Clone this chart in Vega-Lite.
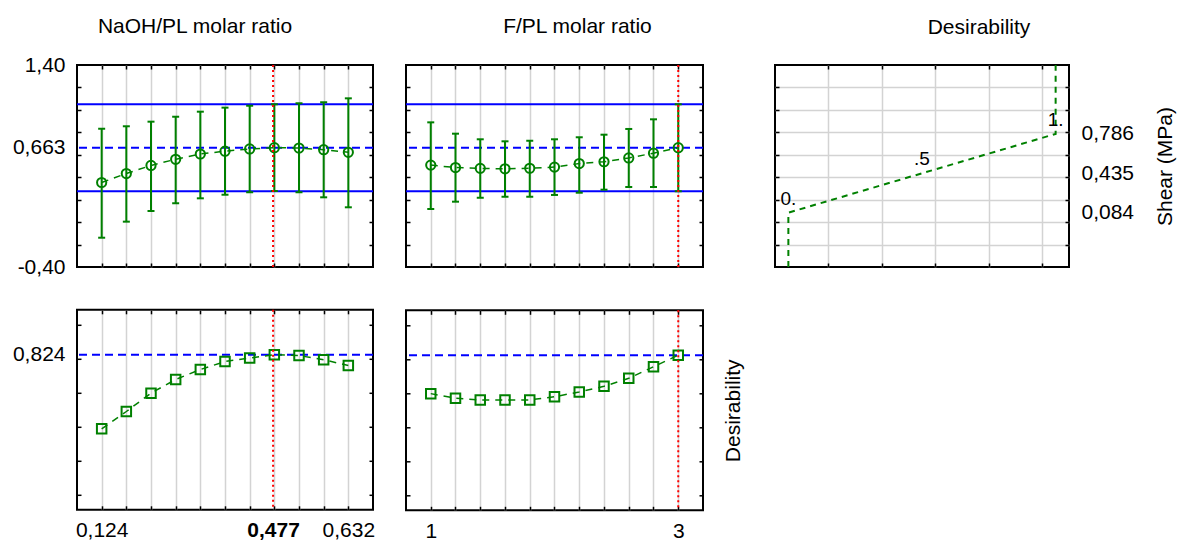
{
  "$schema": "https://vega.github.io/schema/vega-lite/v6.json",
  "background": "white",
  "padding": {"left": 11, "top": 14, "right": 0, "bottom": 0},
  "spacing": 28,
  "datasets": {
    "naoh": [
      {"x": 0.124, "shear": 0.353, "lo": -0.139, "hi": 0.832, "des": 0.388},
      {"x": 0.1748, "shear": 0.433, "lo": 0.004, "hi": 0.854, "des": 0.490},
      {"x": 0.2256, "shear": 0.505, "lo": 0.099, "hi": 0.895, "des": 0.598},
      {"x": 0.2764, "shear": 0.560, "lo": 0.168, "hi": 0.939, "des": 0.678},
      {"x": 0.3272, "shear": 0.607, "lo": 0.212, "hi": 0.984, "des": 0.737},
      {"x": 0.378, "shear": 0.632, "lo": 0.244, "hi": 1.020, "des": 0.784},
      {"x": 0.4288, "shear": 0.652, "lo": 0.266, "hi": 1.037, "des": 0.804},
      {"x": 0.4796, "shear": 0.663, "lo": 0.277, "hi": 1.050, "des": 0.824},
      {"x": 0.5304, "shear": 0.660, "lo": 0.266, "hi": 1.059, "des": 0.819},
      {"x": 0.5812, "shear": 0.645, "lo": 0.221, "hi": 1.068, "des": 0.794},
      {"x": 0.632, "shear": 0.622, "lo": 0.132, "hi": 1.103, "des": 0.761}
    ],
    "fpl": [
      {"x": 1, "shear": 0.508, "lo": 0.117, "hi": 0.889, "des": 0.598},
      {"x": 1.2, "shear": 0.486, "lo": 0.182, "hi": 0.788, "des": 0.571},
      {"x": 1.4, "shear": 0.479, "lo": 0.217, "hi": 0.738, "des": 0.561},
      {"x": 1.6, "shear": 0.475, "lo": 0.226, "hi": 0.720, "des": 0.561},
      {"x": 1.8, "shear": 0.480, "lo": 0.226, "hi": 0.725, "des": 0.561},
      {"x": 2, "shear": 0.490, "lo": 0.242, "hi": 0.738, "des": 0.580},
      {"x": 2.2, "shear": 0.522, "lo": 0.262, "hi": 0.756, "des": 0.608},
      {"x": 2.4, "shear": 0.538, "lo": 0.289, "hi": 0.779, "des": 0.641},
      {"x": 2.6, "shear": 0.572, "lo": 0.313, "hi": 0.830, "des": 0.688},
      {"x": 2.8, "shear": 0.614, "lo": 0.313, "hi": 0.916, "des": 0.756},
      {"x": 3, "shear": 0.663, "lo": 0.275, "hi": 1.050, "des": 0.824}
    ],
    "dfun": [
      {"i": 0, "d": 0, "s": -0.4},
      {"i": 1, "d": 0, "s": 0.084},
      {"i": 2, "d": 1, "s": 0.786},
      {"i": 3, "d": 1, "s": 1.4}
    ],
    "dlab": [
      {"d": 0, "s": 0.084, "t": "0."},
      {"d": 0.5, "s": 0.435, "t": ".5"},
      {"d": 1, "s": 0.786, "t": "1."}
    ]
  },
  "hconcat": [
    {
      "spacing": 29.8,
      "vconcat": [
        {
          "width": 296, "height": 202,
          "title": {"text": "NaOH/PL molar ratio", "frame": "group", "baseline": "alphabetic", "offset": 0.5, "dx": -30},
          "layer": [
            {"data": {"values": [{"v": 1.05}, {"v": 0.275}]}, "mark": {"type": "rule", "color": "#0000ff", "strokeWidth": 2},
             "encoding": {"y": {"field": "v", "type": "quantitative", "scale": {"domain": [-0.4, 1.4], "nice": false, "zero": false}, "axis": null}}},
            {"data": {"values": [{"v": 0.663}]}, "mark": {"type": "rule", "color": "#0000ff", "strokeWidth": 2, "strokeDash": [8, 5]},
             "encoding": {"y": {"field": "v", "type": "quantitative", "scale": {"domain": [-0.4, 1.4], "nice": false, "zero": false}, "axis": null}}},
            {"data": {"name": "naoh"}, "mark": {"type": "rule", "color": "#008000", "strokeWidth": 2},
             "encoding": {
               "x": {"field": "x", "type": "quantitative", "scale": {"domain": [0.0732, 0.6828], "nice": false, "zero": false},
                     "axis": {"orient": "bottom", "title": null, "labels": false, "values": [0.124, 0.1748, 0.2256, 0.2764, 0.3272, 0.378, 0.4288, 0.4796, 0.5304, 0.5812, 0.632]}},
               "y": {"field": "lo", "type": "quantitative", "scale": {"domain": [-0.4, 1.4], "nice": false, "zero": false},
                     "axis": {"orient": "left", "title": null, "values": [-0.4, -0.2, 0, 0.2, 0.4, 0.6, 0.8, 1, 1.2, 1.4, 0.663],
                              "labelExpr": "datum.value == 1.4 ? '1,40' : datum.value == 0.663 ? '0,663' : datum.value == -0.4 ? '-0,40' : ''",
                              "gridOpacity": {"condition": {"test": "datum.value == 0.663 || datum.value == 1.4 || datum.value == -0.4", "value": 0}, "value": 1},
                              "tickOpacity": {"condition": {"test": "datum.value == 0.663 || datum.value == 1.4 || datum.value == -0.4", "value": 0}, "value": 1}}},
               "y2": {"field": "hi"}}},
            {"data": {"name": "naoh"}, "mark": {"type": "tick", "orient": "horizontal", "color": "#008000", "size": 7, "thickness": 2, "opacity": 1},
             "encoding": {"x": {"field": "x", "type": "quantitative", "axis": null}, "y": {"field": "hi", "type": "quantitative", "axis": null}}},
            {"data": {"name": "naoh"}, "mark": {"type": "tick", "orient": "horizontal", "color": "#008000", "size": 7, "thickness": 2, "opacity": 1},
             "encoding": {"x": {"field": "x", "type": "quantitative", "axis": null}, "y": {"field": "lo", "type": "quantitative", "axis": null}}},
            {"data": {"name": "naoh"}, "mark": {"type": "line", "color": "#008000", "strokeWidth": 1.5, "strokeDash": [7, 6]},
             "encoding": {"x": {"field": "x", "type": "quantitative", "axis": null}, "y": {"field": "shear", "type": "quantitative", "axis": null}}},
            {"data": {"name": "naoh"}, "mark": {"type": "point", "shape": "circle", "filled": false, "color": "#008000", "strokeWidth": 2, "size": 85, "opacity": 1},
             "encoding": {
               "x": {"field": "x", "type": "quantitative", "axis": {"orient": "top", "title": null, "labels": false, "grid": false, "values": [0.124, 0.1748, 0.2256, 0.2764, 0.3272, 0.378, 0.4288, 0.4796, 0.5304, 0.5812, 0.632]}},
               "y": {"field": "shear", "type": "quantitative", "axis": {"orient": "right", "title": null, "labels": false, "grid": false, "values": [-0.2, 0, 0.2, 0.4, 0.6, 0.8, 1, 1.2]}}}},
            {"data": {"values": [{"x": 0.477}]}, "mark": {"type": "rule", "color": "#ff0000", "strokeWidth": 2, "strokeDash": [2, 3]},
             "encoding": {"x": {"field": "x", "type": "quantitative", "axis": null}}}
          ],
          "resolve": {"axis": {"x": "independent", "y": "independent"}}
        },
        {
          "width": 296, "height": 200,
          "layer": [
            {"data": {"values": [{"v": 0.824}]}, "mark": {"type": "rule", "color": "#0000ff", "strokeWidth": 2, "strokeDash": [8, 5]},
             "encoding": {"y": {"field": "v", "type": "quantitative", "scale": {"domain": [-0.088, 1.088], "nice": false, "zero": false}, "axis": null}}},
            {"data": {"name": "naoh"}, "mark": {"type": "line", "color": "#008000", "strokeWidth": 1.5, "strokeDash": [7, 6]},
             "encoding": {
               "x": {"field": "x", "type": "quantitative", "scale": {"domain": [0.0732, 0.6828], "nice": false, "zero": false},
                     "axis": {"orient": "bottom", "title": null, "values": [0.124, 0.1748, 0.2256, 0.2764, 0.3272, 0.378, 0.4288, 0.4796, 0.5304, 0.5812, 0.632, 0.477],
                              "labelExpr": "datum.value == 0.124 ? '0,124' : datum.value == 0.477 ? '0,477' : datum.value == 0.632 ? '0,632' : ''",
                              "labelFontWeight": {"condition": {"test": "datum.value == 0.477", "value": "bold"}, "value": "normal"},
                              "gridOpacity": {"condition": {"test": "datum.value == 0.477", "value": 0}, "value": 1},
                              "tickOpacity": {"condition": {"test": "datum.value == 0.477", "value": 0}, "value": 1}}},
               "y": {"field": "des", "type": "quantitative", "scale": {"domain": [-0.088, 1.088], "nice": false, "zero": false},
                     "axis": {"orient": "left", "title": null, "values": [0, 0.2, 0.4, 0.6, 0.8, 1, 0.824],
                              "labelExpr": "datum.value == 0.824 ? '0,824' : ''",
                              "gridOpacity": {"condition": {"test": "datum.value == 0.824", "value": 0}, "value": 1},
                              "tickOpacity": {"condition": {"test": "datum.value == 0.824", "value": 0}, "value": 1}}}}},
            {"data": {"name": "naoh"}, "mark": {"type": "point", "shape": "square", "filled": false, "color": "#008000", "strokeWidth": 2, "size": 90, "opacity": 1},
             "encoding": {
               "x": {"field": "x", "type": "quantitative", "axis": {"orient": "top", "title": null, "labels": false, "grid": false, "values": [0.124, 0.1748, 0.2256, 0.2764, 0.3272, 0.378, 0.4288, 0.4796, 0.5304, 0.5812, 0.632]}},
               "y": {"field": "des", "type": "quantitative", "axis": {"orient": "right", "title": null, "labels": false, "grid": false, "values": [0, 0.2, 0.4, 0.6, 0.8, 1]}}}},
            {"data": {"values": [{"x": 0.477}]}, "mark": {"type": "rule", "color": "#ff0000", "strokeWidth": 2, "strokeDash": [2, 3]},
             "encoding": {"x": {"field": "x", "type": "quantitative", "axis": null}}}
          ],
          "resolve": {"axis": {"x": "independent", "y": "independent"}}
        }
      ]
    },
    {
      "spacing": 39.3,
      "vconcat": [
        {
          "width": 297, "height": 202,
          "title": {"text": "F/PL molar ratio", "frame": "group", "baseline": "alphabetic", "offset": 10, "dx": 23},
          "layer": [
            {"data": {"values": [{"v": 1.05}, {"v": 0.275}]}, "mark": {"type": "rule", "color": "#0000ff", "strokeWidth": 2},
             "encoding": {"y": {"field": "v", "type": "quantitative", "scale": {"domain": [-0.4, 1.4], "nice": false, "zero": false}, "axis": null}}},
            {"data": {"values": [{"v": 0.663}]}, "mark": {"type": "rule", "color": "#0000ff", "strokeWidth": 2, "strokeDash": [8, 5]},
             "encoding": {"y": {"field": "v", "type": "quantitative", "scale": {"domain": [-0.4, 1.4], "nice": false, "zero": false}, "axis": null}}},
            {"data": {"name": "fpl"}, "mark": {"type": "rule", "color": "#008000", "strokeWidth": 2},
             "encoding": {
               "x": {"field": "x", "type": "quantitative", "scale": {"domain": [0.8, 3.2], "nice": false, "zero": false},
                     "axis": {"orient": "bottom", "title": null, "labels": false, "values": [1, 1.2, 1.4, 1.6, 1.8, 2, 2.2, 2.4, 2.6, 2.8, 3]}},
               "y": {"field": "lo", "type": "quantitative", "scale": {"domain": [-0.4, 1.4], "nice": false, "zero": false},
                     "axis": {"orient": "left", "title": null, "labels": false, "values": [-0.2, 0, 0.2, 0.4, 0.6, 0.8, 1, 1.2]}},
               "y2": {"field": "hi"}}},
            {"data": {"name": "fpl"}, "mark": {"type": "tick", "orient": "horizontal", "color": "#008000", "size": 7, "thickness": 2, "opacity": 1},
             "encoding": {"x": {"field": "x", "type": "quantitative", "axis": null}, "y": {"field": "hi", "type": "quantitative", "axis": null}}},
            {"data": {"name": "fpl"}, "mark": {"type": "tick", "orient": "horizontal", "color": "#008000", "size": 7, "thickness": 2, "opacity": 1},
             "encoding": {"x": {"field": "x", "type": "quantitative", "axis": null}, "y": {"field": "lo", "type": "quantitative", "axis": null}}},
            {"data": {"name": "fpl"}, "mark": {"type": "line", "color": "#008000", "strokeWidth": 1.5, "strokeDash": [7, 6]},
             "encoding": {"x": {"field": "x", "type": "quantitative", "axis": null}, "y": {"field": "shear", "type": "quantitative", "axis": null}}},
            {"data": {"name": "fpl"}, "mark": {"type": "point", "shape": "circle", "filled": false, "color": "#008000", "strokeWidth": 2, "size": 85, "opacity": 1},
             "encoding": {
               "x": {"field": "x", "type": "quantitative", "axis": {"orient": "top", "title": null, "labels": false, "grid": false, "values": [1, 1.2, 1.4, 1.6, 1.8, 2, 2.2, 2.4, 2.6, 2.8, 3]}},
               "y": {"field": "shear", "type": "quantitative", "axis": {"orient": "right", "title": null, "labels": false, "grid": false, "values": [-0.2, 0, 0.2, 0.4, 0.6, 0.8, 1, 1.2]}}}},
            {"data": {"values": [{"x": 3}]}, "mark": {"type": "rule", "color": "#ff0000", "strokeWidth": 2, "strokeDash": [2, 3]},
             "encoding": {"x": {"field": "x", "type": "quantitative", "axis": null}}}
          ],
          "resolve": {"axis": {"x": "independent", "y": "independent"}}
        },
        {
          "width": 297, "height": 200,
          "layer": [
            {"data": {"values": [{"v": 0.824}]}, "mark": {"type": "rule", "color": "#0000ff", "strokeWidth": 2, "strokeDash": [8, 5]},
             "encoding": {"y": {"field": "v", "type": "quantitative", "scale": {"domain": [-0.088, 1.088], "nice": false, "zero": false}, "axis": null}}},
            {"data": {"name": "fpl"}, "mark": {"type": "line", "color": "#008000", "strokeWidth": 1.5, "strokeDash": [7, 6]},
             "encoding": {
               "x": {"field": "x", "type": "quantitative", "scale": {"domain": [0.8, 3.2], "nice": false, "zero": false},
                     "axis": {"orient": "bottom", "title": null, "values": [1, 1.2, 1.4, 1.6, 1.8, 2, 2.2, 2.4, 2.6, 2.8, 3],
                              "labelExpr": "datum.value == 1 ? '1' : datum.value == 3 ? '3' : ''"}},
               "y": {"field": "des", "type": "quantitative", "scale": {"domain": [-0.088, 1.088], "nice": false, "zero": false},
                     "axis": {"orient": "left", "title": null, "labels": false, "values": [0, 0.2, 0.4, 0.6, 0.8, 1]}}}},
            {"data": {"name": "fpl"}, "mark": {"type": "point", "shape": "square", "filled": false, "color": "#008000", "strokeWidth": 2, "size": 90, "opacity": 1},
             "encoding": {
               "x": {"field": "x", "type": "quantitative", "axis": {"orient": "top", "title": null, "labels": false, "grid": false, "values": [1, 1.2, 1.4, 1.6, 1.8, 2, 2.2, 2.4, 2.6, 2.8, 3]}},
               "y": {"field": "des", "type": "quantitative", "axis": {"orient": "right", "title": "Desirability", "labels": false, "grid": false, "values": [0, 0.2, 0.4, 0.6, 0.8, 1],
                                                                       "titleAngle": 270, "titleBaseline": "top", "titlePadding": 19}}}},
            {"data": {"values": [{"x": 3}]}, "mark": {"type": "rule", "color": "#ff0000", "strokeWidth": 2, "strokeDash": [2, 3]},
             "encoding": {"x": {"field": "x", "type": "quantitative", "axis": null}}}
          ],
          "resolve": {"axis": {"x": "independent", "y": "independent"}}
        }
      ]
    },
    {
      "width": 294, "height": 202,
      "title": {"text": "Desirability", "frame": "group", "baseline": "alphabetic", "offset": 6.5, "dx": 57},
      "layer": [
        {"data": {"name": "dfun"}, "mark": {"type": "line", "color": "#008000", "strokeWidth": 2, "strokeDash": [6, 5]},
         "encoding": {
           "x": {"field": "d", "type": "quantitative", "scale": {"domain": [-0.05, 1.05], "nice": false, "zero": false},
                 "axis": {"orient": "bottom", "title": null, "labels": false, "values": [0.15, 0.35, 0.55, 0.75, 0.95]}},
           "y": {"field": "s", "type": "quantitative", "scale": {"domain": [-0.4, 1.4], "nice": false, "zero": false},
                 "axis": {"orient": "left", "title": null, "labels": false, "values": [-0.2, 0, 0.2, 0.4, 0.6, 0.8, 1, 1.2]}},
           "order": {"field": "i", "type": "quantitative"}}},
        {"data": {"name": "dlab"}, "mark": {"type": "text", "fontSize": 19, "align": "center", "baseline": "middle", "dy": -14, "color": "black"},
         "encoding": {
           "x": {"field": "d", "type": "quantitative", "axis": {"orient": "top", "title": null, "labels": false, "grid": false, "values": [0.15, 0.35, 0.55, 0.75, 0.95]}},
           "y": {"field": "s", "type": "quantitative", "axis": {"orient": "right", "title": "Shear (MPa)", "grid": false,
                                                                 "values": [-0.2, 0, 0.2, 0.4, 0.6, 0.8, 1, 1.2, 0.084, 0.435, 0.786],
                                                                 "labelExpr": "datum.value == 0.084 ? '0,084' : datum.value == 0.435 ? '0,435' : datum.value == 0.786 ? '0,786' : ''",
                                                                 "tickOpacity": {"condition": {"test": "datum.value == 0.084 || datum.value == 0.435 || datum.value == 0.786", "value": 0}, "value": 1},
                                                                 "titleAngle": 270, "titleBaseline": "top", "titlePadding": 21}},
           "text": {"field": "t", "type": "nominal"}}}
      ],
      "resolve": {"axis": {"x": "independent", "y": "independent"}}
    }
  ],
  "config": {
    "font": "Liberation Sans",
    "view": {"stroke": "black", "strokeWidth": 2},
    "axis": {
      "domain": false, "grid": true, "gridColor": "#d3d3d3", "gridWidth": 1.5,
      "ticks": true, "tickSize": -4, "tickWidth": 1.5, "tickColor": "black",
      "labelPadding": 16, "labelFont": "Liberation Sans", "labelFontSize": 21, "labelColor": "black",
      "labelOverlap": false, "labelFlush": false, "labelBound": false,
      "titleFont": "Liberation Sans", "titleFontSize": 21, "titleFontWeight": "normal", "titleColor": "black"
    },
    "axisBottom": {"labelPadding": 14},
    "title": {"font": "Liberation Sans", "fontSize": 21, "fontWeight": "normal", "color": "black"}
  }
}
